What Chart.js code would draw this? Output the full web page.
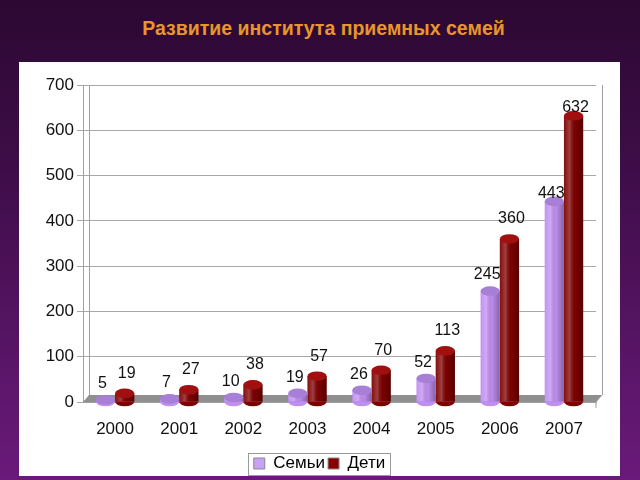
<!DOCTYPE html>
<html>
<head>
<meta charset="utf-8">
<script src="https://cdn.jsdelivr.net/npm/chart.js@4"></script>
<style>
  html, body { margin: 0; padding: 0; }
  body {
    width: 640px; height: 480px; overflow: hidden; position: relative;
    background: linear-gradient(to bottom, #2c0832 0%, #3e0d48 35%, #6a1a7a 100%);
    font-family: "Liberation Sans", Arial, sans-serif;
  }
  #title {
    position: absolute; left: 0; top: 16px; width: 647px; text-align: center;
    color: #e8952c; font-weight: bold; font-size: 19.5px; line-height: 24px;
  }
  #panel {
    position: absolute; left: 19px; top: 62px; width: 601px; height: 414px;
    background: #ffffff;
  }
</style>
</head>
<body>
<div id="title">Развитие института приемных семей</div>
<div id="panel"><canvas id="chart" width="601" height="414"></canvas></div>
<script>
// Years on the x axis
const years = ['2000', '2001', '2002', '2003', '2004', '2005', '2006', '2007'];
// Number of foster families
const families = [5, 7, 10, 19, 26, 52, 245, 443];
// Number of children in foster families
const children = [19, 27, 38, 57, 70, 113, 360, 632];
// Y axis ticks
const yMax = 700;
const yStep = 100;

const famColor = '#c08ef0';
const famTop = '#a77fd6';
const kidColor = '#7e0000';
const kidTop = '#a01010';
const font = '"Liberation Sans", Arial, sans-serif';

// floor, back wall edge and right wall under the bars
const floorPlugin = {
  id: 'floor',
  beforeDatasetsDraw(chart) {
    const ctx = chart.ctx;
    const a = chart.chartArea;
    const base = chart.scales.y.getPixelForValue(0);
    ctx.save();
    ctx.fillStyle = '#8f8f8f';
    ctx.beginPath();
    ctx.moveTo(a.left, base);
    ctx.lineTo(a.left + 6, base - 7);
    ctx.lineTo(a.right + 6, base - 7);
    ctx.lineTo(a.right, base);
    ctx.closePath();
    ctx.fill();
    ctx.strokeStyle = '#a0a0a0';
    ctx.lineWidth = 1;
    ctx.beginPath();
    ctx.moveTo(a.right + 6.5, a.top);
    ctx.lineTo(a.right + 6.5, base - 7);
    ctx.moveTo(a.left + 6.5, a.top);
    ctx.lineTo(a.left + 6.5, base - 7);
    ctx.moveTo(a.right + 6, base - 7);
    ctx.lineTo(a.right, base);
    ctx.lineTo(a.right, base + 6);
    ctx.stroke();
    ctx.restore();
  }
};

// cylinder shading, top ellipses and value labels
const cylinderPlugin = {
  id: 'cylinder',
  afterDatasetsDraw(chart) {
    const ctx = chart.ctx;
    const tops = [famTop, kidTop];
    ctx.save();
    chart.data.datasets.forEach((ds, di) => {
      const meta = chart.getDatasetMeta(di);
      meta.data.forEach((bar, i) => {
        const w = bar.width;
        const left = bar.x - w / 2;
        const g = ctx.createLinearGradient(left, 0, left + w, 0);
        g.addColorStop(0, 'rgba(255,255,255,0.05)');
        g.addColorStop(0.3, 'rgba(255,255,255,0.25)');
        g.addColorStop(0.6, 'rgba(0,0,0,0.02)');
        g.addColorStop(1, 'rgba(0,0,0,0.3)');
        ctx.fillStyle = g;
        ctx.fillRect(left, bar.y, w, bar.base - bar.y);
        // rounded bottom
        ctx.fillStyle = ds.backgroundColor;
        ctx.beginPath();
        ctx.ellipse(bar.x, bar.base, w / 2, w * 0.25, 0, 0, Math.PI);
        ctx.fill();
        // top ellipse
        ctx.fillStyle = tops[di];
        ctx.beginPath();
        ctx.ellipse(bar.x, bar.y, w / 2, w * 0.25, 0, 0, Math.PI * 2);
        ctx.fill();
        // value label
        ctx.fillStyle = '#111';
        ctx.font = '16px ' + font;
        ctx.textAlign = 'center';
        ctx.textBaseline = 'bottom';
        const dx = di === 0 ? -3 : 2;
        const dy = ds.data[i] > 400 ? 0 : (di === 0 ? 8 : 12);
        ctx.fillText(String(ds.data[i]), bar.x + dx, bar.y - dy);
      });
    });
    ctx.restore();
  }
};

// border around the legend
const legendBox = {
  id: 'legendBox',
  afterDraw(chart) {
    const l = chart.legend;
    const ctx = chart.ctx;
    const items = l.legendHitBoxes;
    if (!items.length) return;
    const x0 = items[0].left - 6;
    const last = items[items.length - 1];
    const x1 = last.left + last.width + 5;
    const cy = items[0].top + items[0].height / 2;
    ctx.save();
    ctx.strokeStyle = '#9a9a9a';
    ctx.lineWidth = 1;
    ctx.strokeRect(Math.round(x0) + 0.5, Math.round(cy - 11) + 0.5, Math.round(x1 - x0), 22);
    ctx.restore();
  }
};

new Chart(document.getElementById('chart').getContext('2d'), {
  type: 'bar',
  data: {
    labels: years,
    datasets: [
      { label: 'Семьи', data: families, backgroundColor: famColor },
      { label: 'Дети', data: children, backgroundColor: kidColor }
    ]
  },
  options: {
    responsive: false,
    animation: false,
    events: [],
    layout: { padding: { top: 23, right: 0, left: 0, bottom: -6 } },
    datasets: {
      bar: { categoryPercentage: 0.6, barPercentage: 1.0, borderWidth: 0 }
    },
    scales: {
      x: {
        afterFit(s) { s.height = 50; },
        grid: { display: false },
        border: { color: '#a0a0a0' },
        ticks: {
          color: '#111',
          padding: 9,
          font: { family: font, size: 17 }
        }
      },
      y: {
        min: 0,
        max: yMax,
        afterFit(s) { s.width = 64; },
        grid: { color: '#a8a8a8', tickLength: 6 },
        border: { color: '#a0a0a0' },
        ticks: {
          stepSize: yStep,
          color: '#111',
          padding: 3,
          font: { family: font, size: 17 }
        }
      },
      // empty right axis, only reserves space so the legend stays centred
      y2: {
        position: 'right',
        afterFit(s) { s.width = 24; },
        grid: { display: false },
        border: { display: false },
        ticks: { display: false }
      }
    },
    plugins: {
      legend: {
        position: 'bottom',
        labels: {
          boxWidth: 11,
          boxHeight: 11,
          padding: 3,
          color: '#111',
          font: { family: font, size: 17 },
          generateLabels(chart) {
            return chart.data.datasets.map((d, i) => ({
              text: d.label,
              fillStyle: i === 0 ? '#c8a2f8' : '#8a0000',
              strokeStyle: '#888',
              lineWidth: 1,
              datasetIndex: i
            }));
          }
        }
      },
      tooltip: { enabled: false }
    }
  },
  plugins: [floorPlugin, cylinderPlugin, legendBox]
});
</script>
</body>
</html>
